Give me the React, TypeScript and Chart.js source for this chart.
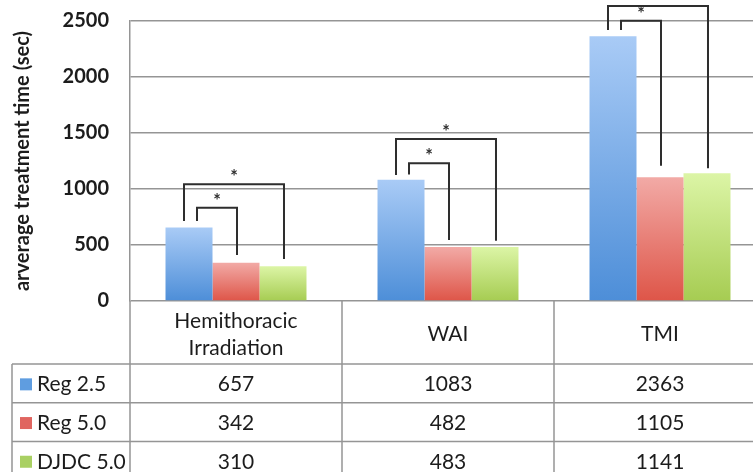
import React, { useEffect, useRef } from "react";
import { Chart, registerables } from "chart.js";

Chart.register(...registerables);

// ---- Data ----
const categories: string[][] = [["Hemithoracic", "Irradiation"], ["WAI"], ["TMI"]];
const seriesNames: string[] = ["Reg 2.5", "Reg 5.0", "DJDC 5.0"];
const reg25: number[] = [657, 1083, 2363];
const reg50: number[] = [342, 482, 1105];
const djdc50: number[] = [310, 483, 1141];
const yTicks: number[] = [0, 500, 1000, 1500, 2000, 2500];

// significance brackets (value-space heights)
const bracketCategory: number[] = [0, 0, 1, 1, 2, 2];
const bracketTo: number[] = [1, 2, 1, 2, 1, 2];
const bracketTop: number[] = [833, 1042, 1230, 1446, 2503, 2634];
const bracketFromY: number[] = [714, 714, 1130, 1125, 2420, 2420];
const bracketToY: number[] = [411, 375, 545, 538, 1208, 1185];

const seriesValues = [reg25, reg50, djdc50];
const topColors = ["#a9cbf6", "#f2aaa6", "#dcf5a6"];
const bottomColors = ["#4d8ed8", "#de5548", "#a6cc52"];
const keyColors = ["#5f9de0", "#e06560", "#a9d063"];

const FONT = "Lato, 'Open Sans', sans-serif";
const GRID = "#959595";
const TEXT = "#1c1c1c";

const tablePlugin = {
  id: "tablePlugin",
  afterDraw(chart: any) {
    const ctx = chart.ctx;
    const area = chart.chartArea;
    const left = area.left;
    const right = area.right;
    const catW = (right - left) / categories.length;
    const y0 = area.bottom;
    const headerBottom = y0 + 63;
    const rowH = 38.7;
    const rowLines = [headerBottom, headerBottom + rowH, headerBottom + 2 * rowH, headerBottom + 3 * rowH];
    const tableLeft = 12;
    const bottom = chart.height + 20;
    ctx.save();
    ctx.strokeStyle = GRID;
    ctx.lineWidth = 1.5;
    ctx.beginPath();
    rowLines.forEach((y) => {
      ctx.moveTo(tableLeft, y);
      ctx.lineTo(chart.width, y);
    });
    ctx.moveTo(tableLeft, headerBottom);
    ctx.lineTo(tableLeft, bottom);
    for (let i = 0; i <= categories.length; i++) {
      const x = left + i * catW;
      ctx.moveTo(x, y0);
      ctx.lineTo(x, bottom);
    }
    ctx.stroke();

    ctx.fillStyle = TEXT;
    ctx.textAlign = "center";
    ctx.textBaseline = "middle";
    ctx.font = `21px ${FONT}`;
    categories.forEach((lines, i) => {
      const cx = left + (i + 0.5) * catW;
      const cy = (y0 + headerBottom) / 2 + 2;
      const lh = 27;
      lines.forEach((t, j) => {
        ctx.fillText(t, cx, cy + (j - (lines.length - 1) / 2) * lh);
      });
    });
    seriesNames.forEach((name, r) => {
      const cy = rowLines[r] + rowH / 2 + 1;
      ctx.fillStyle = keyColors[r];
      ctx.fillRect(20, cy - 6, 12, 12);
      ctx.fillStyle = TEXT;
      ctx.textAlign = "left";
      ctx.fillText(name, 37, cy);
      ctx.textAlign = "center";
      seriesValues[r].forEach((v, i) => {
        ctx.fillText(String(v), left + (i + 0.5) * catW, cy);
      });
    });
    ctx.restore();
  },
};

const bracketPlugin = {
  id: "bracketPlugin",
  afterDatasetsDraw(chart: any) {
    const ctx = chart.ctx;
    const y = chart.scales.y;
    ctx.save();
    ctx.strokeStyle = "#2e2e2e";
    ctx.lineWidth = 2;
    ctx.fillStyle = "#2e2e2e";
    ctx.font = `bold 18px ${FONT}`;
    ctx.textAlign = "center";
    ctx.textBaseline = "alphabetic";
    bracketCategory.forEach((cat, k) => {
      const fromBar = chart.getDatasetMeta(0).data[cat];
      const toBar = chart.getDatasetMeta(bracketTo[k]).data[cat];
      const isOuter = bracketTo[k] === 2;
      const x1 = fromBar.x + (isOuter ? -5 : 8);
      const x2 = toBar.x + 1;
      const yTop = y.getPixelForValue(bracketTop[k]);
      const yA = y.getPixelForValue(bracketFromY[k]);
      const yB = y.getPixelForValue(bracketToY[k]);
      ctx.beginPath();
      ctx.moveTo(x1, yA);
      ctx.lineTo(x1, yTop);
      ctx.lineTo(x2, yTop);
      ctx.lineTo(x2, yB);
      ctx.stroke();
      ctx.fillText("*", (x1 + x2) / 2, yTop - 1);
    });
    ctx.restore();
  },
};

export default function App() {
  const ref = useRef<HTMLCanvasElement | null>(null);
  useEffect(() => {
    document.body.style.margin = "0";
    const canvas = ref.current;
    if (!canvas) return;
    const gradientFor = (i: number) => (c: any) => {
      const chart = c.chart;
      const scales = chart.scales;
      if (!chart.chartArea || !scales || !scales.y || c.type !== "data") return keyColors[i];
      const top = scales.y.getPixelForValue(c.raw);
      const bot = scales.y.getPixelForValue(0);
      if (!isFinite(top) || !isFinite(bot) || top === bot) return keyColors[i];
      const g = chart.ctx.createLinearGradient(0, top, 0, bot);
      g.addColorStop(0, topColors[i]);
      g.addColorStop(1, bottomColors[i]);
      return g;
    };
    const chart = new Chart(canvas, {
      type: "bar",
      data: {
        labels: categories.map((c) => c.join(" ")),
        datasets: seriesNames.map((name, i) => ({
          label: name,
          data: seriesValues[i],
          backgroundColor: gradientFor(i),
          borderWidth: 0,
          categoryPercentage: 0.665,
          barPercentage: 1.0,
        })),
      },
      options: {
        animation: false,
        responsive: false,
        maintainAspectRatio: false,
        layout: { padding: { top: 21, bottom: 171, left: 0, right: 0 } },
        plugins: {
          legend: { display: false },
          tooltip: { enabled: false },
          title: { display: false },
        },
        scales: {
          x: { display: false },
          y: {
            min: 0,
            max: 2500,
            afterBuildTicks: (s: any) => {
              s.ticks = yTicks.map((v) => ({ value: v }));
            },
            afterFit: (s: any) => {
              s.width = 130;
            },
            border: { display: true, color: GRID, width: 1.5 },
            grid: { color: GRID, lineWidth: 1.5, drawTicks: true, tickLength: 21, tickColor: "rgba(0,0,0,0)" },
            ticks: {
              padding: 0,
              color: TEXT,
              font: { family: FONT, size: 20, weight: "bold" },
              callback: (v: any) => String(v),
            },
            title: {
              display: true,
              text: "arverage treatment time (sec)",
              color: TEXT,
              font: { family: FONT, size: 20, weight: "bold" },
              padding: { top: 11, bottom: 0 },
            },
          },
        },
      },
      plugins: [bracketPlugin, tablePlugin],
    });
    return () => chart.destroy();
  }, []);
  return (
    <div style={{ width: 753, height: 472, overflow: "hidden", background: "#fff", position: "relative" }}>
      <canvas ref={ref} width={766} height={472} style={{ display: "block", width: 766, height: 472 }} />
    </div>
  );
}
